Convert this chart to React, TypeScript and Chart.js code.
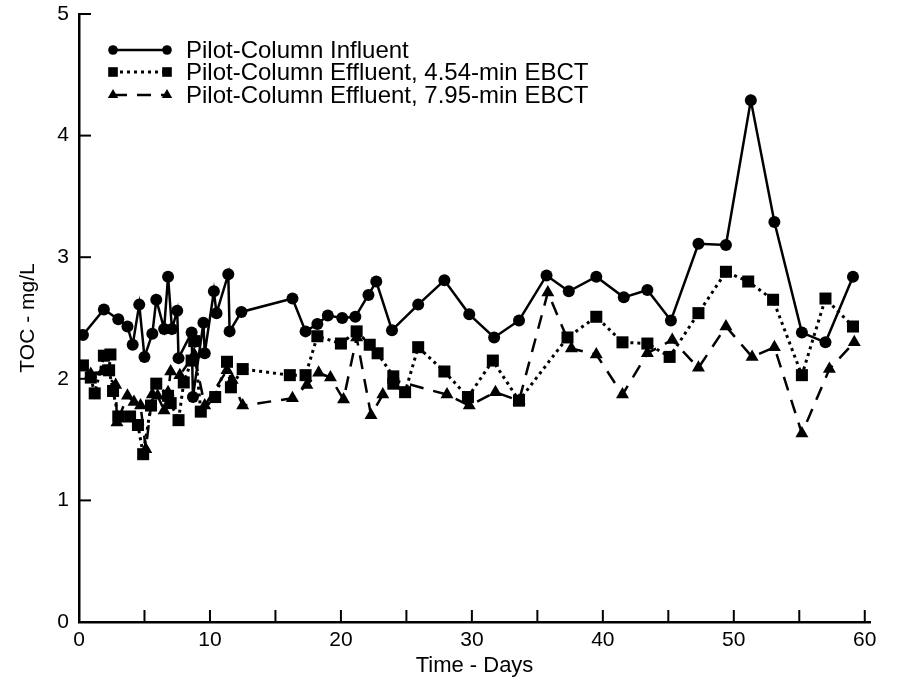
import React, { useEffect, useRef } from 'react';
import { Chart, registerables } from 'chart.js';

Chart.register(...registerables);

const FONT = '"Liberation Sans", Arial, Helvetica, sans-serif';

// ---- Data ----
const influentDays = [0.3, 1.9, 3.0, 3.7, 4.1, 4.6, 5.0, 5.6, 5.9, 6.5, 6.8, 7.1, 7.5, 7.6, 8.6, 8.7, 9.5, 9.6, 10.3, 10.5, 11.4, 11.5, 12.4, 16.3, 17.3, 18.2, 19.0, 20.1, 21.1, 22.1, 22.7, 23.9, 25.9, 27.9, 29.8, 31.7, 33.6, 35.7, 37.4, 39.5, 41.6, 43.4, 45.2, 47.3, 49.4, 51.3, 53.1, 55.2, 57.0, 59.1];
const influentToc = [2.36, 2.57, 2.49, 2.43, 2.28, 2.61, 2.18, 2.37, 2.65, 2.41, 2.84, 2.41, 2.56, 2.17, 2.38, 1.85, 2.46, 2.21, 2.72, 2.54, 2.86, 2.39, 2.55, 2.66, 2.39, 2.45, 2.52, 2.50, 2.51, 2.69, 2.80, 2.40, 2.61, 2.81, 2.53, 2.34, 2.48, 2.85, 2.72, 2.84, 2.67, 2.73, 2.48, 3.11, 3.10, 4.29, 3.29, 2.38, 2.30, 2.84];

const eff454Days = [0.3, 0.9, 1.2, 1.9, 2.4, 2.3, 2.6, 3.0, 3.9, 4.5, 4.9, 5.5, 5.9, 6.8, 7.0, 7.6, 8.0, 8.6, 8.8, 9.3, 10.4, 11.3, 11.6, 12.5, 16.1, 17.3, 18.2, 20.0, 21.2, 22.2, 22.8, 24.0, 24.0, 24.9, 25.9, 27.9, 29.7, 31.6, 33.6, 37.3, 39.5, 41.5, 43.4, 45.1, 47.3, 49.4, 51.1, 53.0, 55.2, 57.0, 59.1];
const eff454Toc = [2.11, 2.01, 1.88, 2.19, 2.20, 2.07, 1.90, 1.69, 1.69, 1.62, 1.38, 1.78, 1.96, 1.86, 1.80, 1.66, 1.97, 2.15, 2.31, 1.73, 1.85, 2.14, 1.93, 2.08, 2.03, 2.03, 2.35, 2.29, 2.39, 2.28, 2.21, 2.02, 1.96, 1.89, 2.26, 2.06, 1.85, 2.15, 1.82, 2.34, 2.51, 2.30, 2.29, 2.18, 2.54, 2.88, 2.80, 2.65, 2.03, 2.66, 2.43];

const eff795Days = [0.9, 1.8, 2.8, 2.9, 3.7, 4.2, 4.7, 5.1, 5.6, 6.0, 6.5, 6.8, 7.0, 7.7, 8.8, 9.6, 11.3, 11.7, 12.5, 16.3, 17.4, 18.3, 19.2, 20.2, 21.2, 22.3, 23.2, 24.0, 28.1, 29.8, 31.8, 33.6, 35.8, 37.6, 39.5, 41.5, 43.4, 45.3, 47.3, 49.4, 51.4, 53.1, 55.2, 57.3, 59.2];
const eff795Toc = [2.04, 2.06, 1.95, 1.64, 1.86, 1.81, 1.78, 1.42, 1.87, 1.86, 1.74, 1.89, 2.06, 2.03, 2.20, 1.78, 2.07, 1.99, 1.78, 1.84, 1.95, 2.05, 2.01, 1.83, 2.34, 1.70, 1.87, 1.99, 1.87, 1.78, 1.89, 1.82, 2.71, 2.25, 2.20, 1.87, 2.21, 2.32, 2.09, 2.43, 2.18, 2.26, 1.55, 2.08, 2.30];

const seriesLabels = [
  'Pilot-Column Influent',
  'Pilot-Column Effluent, 4.54-min EBCT',
  'Pilot-Column Effluent, 7.95-min EBCT',
];

const xAxisTitle = 'Time - Days';
const yAxisTitle = 'TOC - mg/L';

const toPoints = (xs: number[], ys: number[]) => xs.map((x, i) => ({ x, y: ys[i] }));

function drawMarker(ctx: CanvasRenderingContext2D, style: string, x: number, y: number, r: number) {
  ctx.beginPath();
  if (style === 'circle') {
    ctx.arc(x, y, r, 0, Math.PI * 2);
  } else if (style === 'rect') {
    const s = Math.SQRT1_2 * r;
    ctx.rect(x - s, y - s, 2 * s, 2 * s);
  } else {
    const h = r * 1.5;
    const w = r * Math.sqrt(3);
    ctx.moveTo(x - w / 2, y + h / 3);
    ctx.lineTo(x + w / 2, y + h / 3);
    ctx.lineTo(x, y - (2 * h) / 3);
    ctx.closePath();
  }
  ctx.fill();
}

const inwardTicks = {
  id: 'inwardTicks',
  afterDraw(chart: any) {
    const { ctx, chartArea, scales } = chart;
    const x = scales.x;
    const y = scales.y;
    ctx.save();
    ctx.strokeStyle = '#000';
    ctx.lineWidth = 2;
    x.ticks.forEach((t: any) => {
      const px = x.getPixelForValue(t.value);
      ctx.beginPath();
      ctx.moveTo(px, chartArea.bottom);
      ctx.lineTo(px, chartArea.bottom - 12);
      ctx.stroke();
    });
    y.ticks.forEach((t: any) => {
      const py = y.getPixelForValue(t.value);
      ctx.beginPath();
      ctx.moveTo(chartArea.left, py);
      ctx.lineTo(chartArea.left + 12, py);
      ctx.stroke();
    });
    ctx.restore();
  },
};

const customLegend = {
  id: 'customLegend',
  afterDraw(chart: any) {
    const { ctx, chartArea } = chart;
    const x0 = chartArea.left + 34;
    const x1 = x0 + 54;
    const tx = chartArea.left + 107;
    const rows = [36, 58, 81];
    ctx.save();
    chart.data.datasets.forEach((ds: any, i: number) => {
      const yy = chartArea.top + rows[i];
      ctx.strokeStyle = '#000';
      ctx.fillStyle = '#000';
      ctx.lineWidth = ds.borderWidth;
      ctx.setLineDash(ds.borderDash || []);
      ctx.beginPath();
      ctx.moveTo(x0, yy);
      ctx.lineTo(x1, yy);
      ctx.stroke();
      ctx.setLineDash([]);
      const r = ds.pointRadius * 0.8;
      drawMarker(ctx, ds.pointStyle, x0, yy, r);
      drawMarker(ctx, ds.pointStyle, x1, yy, r);
      ctx.font = `24px ${FONT}`;
      ctx.textBaseline = 'middle';
      ctx.textAlign = 'left';
      ctx.fillText(ds.label, tx, yy + 1);
    });
    ctx.restore();
  },
};

export default function App() {
  const ref = useRef<HTMLCanvasElement | null>(null);

  useEffect(() => {
    if (!ref.current) return;
    const chart = new Chart(ref.current, {
      type: 'line',
      data: {
        datasets: [
          {
            label: seriesLabels[0],
            data: toPoints(influentDays, influentToc),
            borderColor: '#000',
            backgroundColor: '#000',
            borderWidth: 2.5,
            pointStyle: 'circle',
            pointRadius: 6,
            pointBorderWidth: 0,
            pointBackgroundColor: '#000',
            tension: 0,
          },
          {
            label: seriesLabels[1],
            data: toPoints(eff454Days, eff454Toc),
            borderColor: '#000',
            backgroundColor: '#000',
            borderWidth: 3,
            borderDash: [3, 4],
            pointStyle: 'rect',
            pointRadius: 8.5,
            pointBorderWidth: 0,
            pointBackgroundColor: '#000',
            tension: 0,
          },
          {
            label: seriesLabels[2],
            data: toPoints(eff795Days, eff795Toc),
            borderColor: '#000',
            backgroundColor: '#000',
            borderWidth: 2.5,
            borderDash: [14, 10],
            pointStyle: 'triangle',
            pointRadius: 7.5,
            pointBorderWidth: 0,
            pointBackgroundColor: '#000',
            tension: 0,
          },
        ],
      },
      options: {
        responsive: false,
        animation: false,
        layout: { padding: { top: 14, right: 29, left: 0, bottom: 0 } },
        plugins: {
          legend: { display: false },
          tooltip: { enabled: false },
        },
        scales: {
          x: {
            type: 'linear',
            min: 0,
            max: 60.4,
            grid: { display: false, drawTicks: false },
            border: { display: true, color: '#000', width: 2.5 },
            ticks: {
              stepSize: 5,
              includeBounds: false,
              autoSkip: false,
              maxRotation: 0,
              padding: 6,
              color: '#000',
              font: { family: FONT, size: 21 },
              callback: (v: any) => (Number(v) % 10 === 0 ? String(v) : ''),
            },
            title: {
              display: true,
              text: xAxisTitle,
              color: '#000',
              font: { family: FONT, size: 22 },
              padding: { top: 0, bottom: 8 },
            },
            afterFit: (s: any) => {
              s.height = 65;
              s.paddingLeft = 0;
              s.paddingRight = 0;
            },
          },
          y: {
            type: 'linear',
            min: 0,
            max: 5,
            grid: { display: false, drawTicks: false },
            border: { display: true, color: '#000', width: 2.5 },
            ticks: {
              stepSize: 1,
              padding: 10,
              color: '#000',
              font: { family: FONT, size: 21 },
            },
            title: {
              display: true,
              text: yAxisTitle,
              color: '#000',
              font: { family: FONT, size: 21 },
              padding: { top: 16, bottom: 0 },
            },
            afterFit: (s: any) => {
              s.width = 79;
              s.paddingTop = 0;
              s.paddingBottom = 0;
            },
          },
        },
      },
      plugins: [inwardTicks, customLegend],
    });
    return () => chart.destroy();
  }, []);

  return (
    <div style={{ position: 'absolute', left: 0, top: 0, width: 899, height: 687, background: '#fff' }}>
      <canvas ref={ref} width={899} height={687} style={{ width: 899, height: 687 }} />
    </div>
  );
}
